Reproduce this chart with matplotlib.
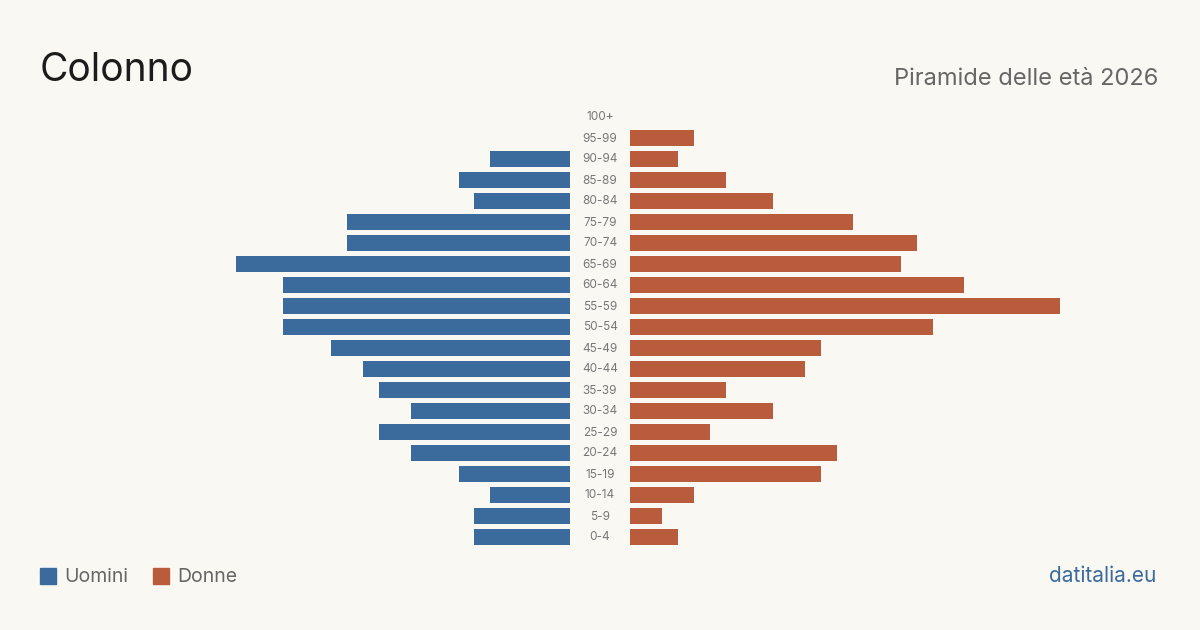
import matplotlib.pyplot as plt
from matplotlib.patches import Rectangle

plt.rcParams['font.family'] = ['Inter', 'DejaVu Sans']

# Data
ages = ["100+", "95-99", "90-94", "85-89", "80-84", "75-79", "70-74", "65-69",
        "60-64", "55-59", "50-54", "45-49", "40-44", "35-39", "30-34", "25-29",
        "20-24", "15-19", "10-14", "5-9", "0-4"]
uomini = [0, 0, 5, 7, 6, 14, 14, 21, 18, 18, 18, 15, 13, 12, 10, 12, 10, 7, 5, 6, 6]
donne = [0, 4, 3, 6, 9, 14, 18, 17, 21, 27, 19, 12, 11, 6, 9, 5, 13, 12, 4, 2, 3]

BG = "#f9f8f3"
BLUE = "#3b6b9c"
ORANGE = "#b85c3c"

W, H = 1200, 630
fig = plt.figure(figsize=(W / 100, H / 100), dpi=100, facecolor=BG)

xmax = max(max(uomini), max(donne))
half = 430  # pixels for the max value
top_px, bot_px = 106.5, 547.5
n = len(ages)


def px_axes(x0, x1):
    return fig.add_axes([x0 / W, (H - bot_px) / H, (x1 - x0) / W, (bot_px - top_px) / H])


axl = px_axes(570 - half, 570)
axr = px_axes(630, 630 + half)
ypos = list(range(n))
for ax in (axl, axr):
    ax.set_facecolor("none")
    ax.set_ylim(n - 0.5, -0.5)
    ax.axis("off")
axl.set_xlim(xmax, 0)
axr.set_xlim(0, xmax)

axl.barh(ypos, uomini, height=0.8, color=BLUE)
axr.barh(ypos, donne, height=0.8, color=ORANGE)

# Age labels in the center gap
for i, a in enumerate(ages):
    y = 117.5 + i * 21
    fig.text(600 / W, 1 - y / H, a, ha="center", va="center",
             fontsize=8.5, color="#777777")

# Titles
fig.text(40 / W, 1 - 81 / H, "Colonno", fontsize=28, color="#1c1c1c",
         ha="left", va="baseline")
fig.text(1158 / W, 1 - 85 / H, "Piramide delle età 2026", fontsize=17,
         color="#666666", ha="right", va="baseline")

# Legend
for x0, col, lab in [(40, BLUE, "Uomini"), (153, ORANGE, "Donne")]:
    fig.patches.append(Rectangle((x0 / W, 1 - 584 / H), 16 / W, 16 / H,
                                 transform=fig.transFigure, color=col))
    fig.text((x0 + 24) / W, 1 - 576.5 / H, lab, fontsize=14, color="#666666",
             ha="left", va="center")

fig.text(1156 / W, 1 - 576.5 / H, "datitalia.eu", fontsize=15, color=BLUE,
         ha="right", va="center")

fig.savefig("out.png", dpi=100, facecolor=BG)
